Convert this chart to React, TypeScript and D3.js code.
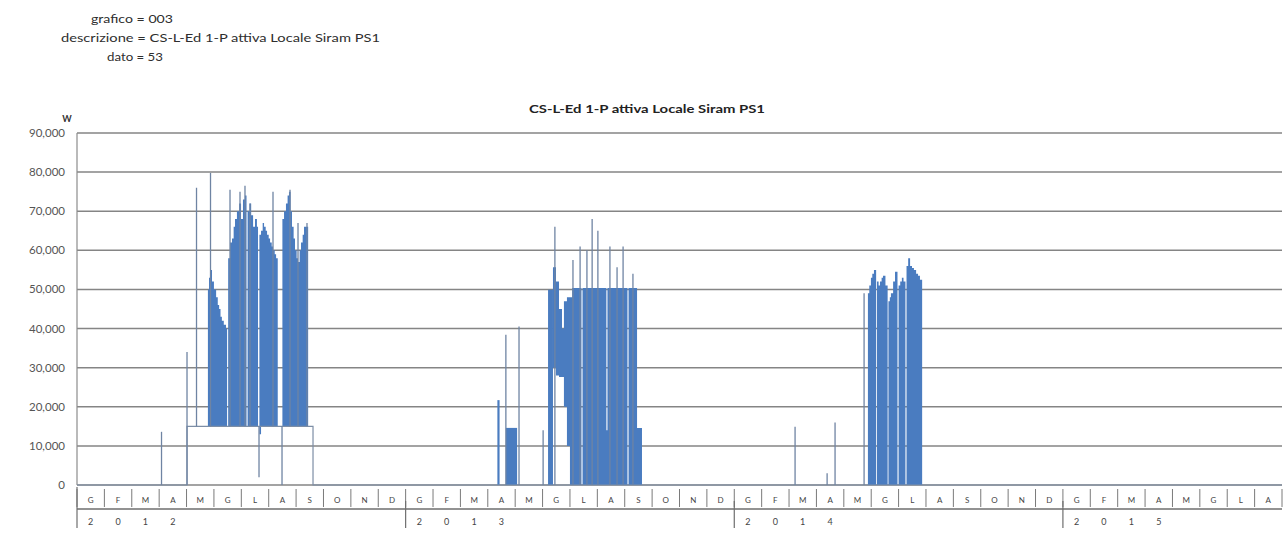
import React, { useEffect, useRef } from "react";
import * as d3 from "d3";

// header text above the chart
const headerLines = [
  "grafico = 003",
  "descrizione = CS-L-Ed 1-P attiva Locale Siram PS1",
  "dato = 53",
];
const chartTitle = "CS-L-Ed 1-P attiva Locale Siram PS1";
const unitLabel = "W";

// axis labels
const monthLabels = ["G", "F", "M", "A", "M", "G", "L", "A", "S", "O", "N", "D"];
const yearLabels = ["2012", "2013", "2014", "2015"];
const monthsPerYear = [12, 12, 12, 8];
const yTicks = [0, 10000, 20000, 30000, 40000, 50000, 60000, 70000, 80000, 90000];

// time is in months from january 2012, values in W
// slow part of the line: [month, W]
const baseLine: [number, number][] = [
  [0, 0], [4.017, 0], [4.017, 15000], [8.618, 15000], [8.618, 0], [44, 0],
];

// dense daily swings drawn as filled bands: [month, low W, high W]
const block2012: [number, number, number][] = [
  [4.78, 15000, 50000], [4.82, 15000, 53000], [4.87, 15000, 55000], [4.93, 15000, 52000],
  [5.0, 15000, 50000], [5.08, 15000, 48000], [5.14, 15000, 46000], [5.19, 15000, 45000],
  [5.24, 15000, 43000], [5.29, 15000, 42000], [5.36, 15000, 41000], [5.44, 15000, 40000],
  [5.48, 15000, 15000], [5.52, 15000, 58000], [5.59, 15000, 62000], [5.66, 15000, 63000],
  [5.72, 15000, 66000], [5.77, 15000, 68000], [5.84, 15000, 70000], [5.92, 15000, 72000],
  [5.99, 15000, 68000], [6.06, 15000, 73000], [6.13, 15000, 74000], [6.19, 15000, 15000],
  [6.23, 15000, 70000], [6.3, 15000, 72000], [6.36, 15000, 69000], [6.43, 15000, 66000],
  [6.50, 15000, 68000], [6.57, 15000, 66000], [6.61, 15000, 15000],
  [6.66, 13000, 64000], [6.72, 15000, 65000], [6.78, 15000, 67000], [6.83, 15000, 66000],
  [6.89, 15000, 65000], [6.94, 15000, 64000], [7.0, 15000, 63000], [7.05, 15000, 62000],
  [7.11, 15000, 61000], [7.16, 15000, 60000], [7.22, 15000, 59000], [7.27, 15000, 58000],
  [7.33, 15000, 15000],
  [7.5, 15000, 68000], [7.56, 15000, 70000], [7.63, 15000, 72000], [7.69, 15000, 74000],
  [7.74, 15000, 75000], [7.8, 15000, 70000], [7.85, 15000, 66000], [7.91, 15000, 63000],
  [7.96, 15000, 60000], [8.02, 15000, 58000], [8.07, 15000, 57000], [8.13, 15000, 60000],
  [8.18, 15000, 62000], [8.24, 15000, 64000], [8.29, 15000, 66000],
  [8.40, 15000, 66000], [8.44, 15000, 15000],
];

const block2013a: [number, number, number][] = [[15.35, 0, 21700], [15.43, 0, 0]];
const block2013b: [number, number, number][] = [[15.66, 0, 14600], [16.07, 0, 0]];
const block2013c: [number, number, number][] = [[17.2, 0, 49900], [17.38, 0, 0]];
const block2013d: [number, number, number][] = [
  [17.38, 30000, 55700], [17.49, 28000, 52000], [17.6, 27600, 45000], [17.71, 27600, 40000],
  [17.78, 20000, 47000], [17.89, 10000, 48000], [18.0, 0, 48000], [18.08, 0, 50400],
  [18.42, 0, 0], [18.46, 0, 50400], [19.33, 0, 14000], [19.37, 0, 50400],
  [20.1, 0, 0], [20.14, 0, 50400], [20.45, 0, 14600], [20.63, 0, 0],
];

const block2014: [number, number, number][] = [
  [28.88, 0, 49000], [28.93, 0, 51000], [28.99, 0, 53000], [29.04, 0, 54000], [29.1, 0, 55000],
  [29.18, 0, 0], [29.21, 0, 52000], [29.27, 0, 51000], [29.32, 0, 52000], [29.38, 0, 53000],
  [29.43, 0, 53500], [29.52, 0, 51000], [29.6, 0, 0],
  [29.63, 0, 47000], [29.68, 0, 48000], [29.72, 0, 49000], [29.8, 0, 52000], [29.87, 0, 54500],
  [29.96, 0, 0], [30.0, 0, 51000], [30.06, 0, 52000], [30.12, 0, 53000], [30.18, 0, 52000],
  [30.25, 0, 0], [30.29, 0, 56000], [30.35, 0, 58000], [30.42, 0, 56000], [30.49, 0, 55500],
  [30.56, 0, 55000], [30.64, 0, 54000], [30.71, 0, 53500], [30.78, 0, 52500], [30.86, 0, 0],
];

// single readings that stick out: [month, from W, to W]
const spikes: [number, number, number][] = [
  [3.086, 0, 13600], [4.017, 0, 34000], [4.364, 15000, 76000], [4.875, 15000, 79800],
  [5.587, 15000, 75500], [5.952, 15000, 75000], [6.134, 15000, 76500], [6.317, 15000, 72000],
  [6.646, 2000, 15000], [7.157, 15000, 75000], [7.486, 0, 15000], [7.778, 15000, 75500],
  [8.07, 15000, 67000], [8.398, 15000, 67000],
  [15.66, 0, 38400], [16.14, 0, 40500], [17.02, 0, 14000], [17.45, 0, 66000],
  [18.11, 0, 57500], [18.37, 0, 61000], [18.62, 0, 60000], [18.81, 0, 68000],
  [19.02, 0, 65000], [19.46, 0, 61000], [19.72, 0, 55700], [19.94, 0, 61000], [20.3, 0, 54000],
  [26.22, 0, 14900], [27.39, 0, 3000], [27.68, 0, 16000], [28.74, 0, 49000],
];

export default function App() {
  const svgRef = useRef<SVGSVGElement>(null);

  useEffect(() => {
    const width = 1285;
    const height = 542;
    const margin = { top: 133, right: 3, bottom: 57, left: 77 };
    const font = "Lato, 'Open Sans', sans-serif";
    const blue = "#4a7cc0";

    const svg = d3.select(svgRef.current);
    svg.selectAll("*").remove();
    svg.attr("width", width).attr("height", height);

    const totalMonths = d3.sum(monthsPerYear);

    //scales
    const x = d3.scaleLinear()
      .domain([0, totalMonths])
      .range([margin.left, width - margin.right]);
    const y = d3.scaleLinear()
      .domain([0, 90000])
      .range([height - margin.bottom, margin.top]);

    //header lines
    const header = svg.append("g").attr("font-family", font).attr("font-size", 12).attr("fill", "#2e2e2e");
    const headerX = [91, 61, 107];
    const headerW = [82, 319, 56];
    const headerY = [23, 42, 61];
    headerLines.forEach((t, i) => {
      header.append("text")
        .attr("x", headerX[i]).attr("y", headerY[i])
        .attr("textLength", headerW[i]).attr("lengthAdjust", "spacingAndGlyphs")
        .text(t);
    });

    //title and unit
    svg.append("text")
      .attr("x", 647).attr("y", 113)
      .attr("text-anchor", "middle")
      .attr("font-family", font).attr("font-size", 11).attr("font-weight", "bold")
      .attr("textLength", 236).attr("lengthAdjust", "spacingAndGlyphs")
      .attr("fill", "#222")
      .text(chartTitle);
    svg.append("text")
      .attr("x", 67).attr("y", 122)
      .attr("text-anchor", "middle")
      .attr("font-family", font).attr("font-size", 9).attr("font-weight", "bold")
      .attr("fill", "#333")
      .text(unitLabel);

    //horizontal gridlines
    svg.append("g")
      .selectAll("line")
      .data(yTicks)
      .join("line")
      .attr("x1", x(0)).attr("x2", x(totalMonths))
      .attr("y1", (d) => y(d)).attr("y2", (d) => y(d))
      .attr("stroke", "#858585").attr("stroke-width", 1.5);

    //y axis line and labels
    svg.append("line")
      .attr("x1", x(0)).attr("x2", x(0))
      .attr("y1", y(90000)).attr("y2", y(0))
      .attr("stroke", "#8c8c8c").attr("stroke-width", 1.2);
    svg.append("g")
      .selectAll("text")
      .data(yTicks)
      .join("text")
      .attr("x", 65).attr("y", (d) => y(d))
      .attr("dy", "0.35em")
      .attr("text-anchor", "end")
      .attr("font-family", font).attr("font-size", 11.5)
      .attr("fill", "#555")
      .text((d) => d3.format(",")(d));

    //filled bands, each reading held until the next one
    const area = d3.area<[number, number, number]>()
      .x((d) => x(d[0]))
      .y0((d) => y(d[1]))
      .y1((d) => y(d[2]))
      .curve(d3.curveStepAfter);
    [block2012, block2013a, block2013b, block2013c, block2013d, block2014].forEach((b) => {
      svg.append("path").attr("d", area(b)).attr("fill", blue);
    });

    //slow line
    const line = d3.line<[number, number]>().x((d) => x(d[0])).y((d) => y(d[1]));
    svg.append("path")
      .attr("d", line(baseLine))
      .attr("fill", "none")
      .attr("stroke", "#7d8ea6").attr("stroke-width", 1.2);

    //spikes
    svg.append("g")
      .selectAll("line")
      .data(spikes)
      .join("line")
      .attr("x1", (d) => x(d[0])).attr("x2", (d) => x(d[0]))
      .attr("y1", (d) => y(d[1])).attr("y2", (d) => y(d[2]))
      .attr("stroke", "#6f84a3").attr("stroke-width", 1.3);

    //x axis: month row
    const axisG = svg.append("g");
    const months = d3.range(totalMonths);
    axisG.selectAll("line.sep")
      .data(d3.range(totalMonths + 1))
      .join("line")
      .attr("class", "sep")
      .attr("x1", (d) => x(d)).attr("x2", (d) => x(d))
      .attr("y1", y(0) + 4).attr("y2", y(0) + 22)
      .attr("stroke", "#7a7a7a").attr("stroke-width", 1);
    axisG.selectAll("text.month")
      .data(months)
      .join("text")
      .attr("class", "month")
      .attr("x", (d) => x(d + 0.5)).attr("y", y(0) + 18)
      .attr("text-anchor", "middle")
      .attr("font-family", font).attr("font-size", 8)
      .attr("fill", "#444")
      .text((d) => monthLabels[d % 12]);
    axisG.append("line")
      .attr("x1", x(0)).attr("x2", x(totalMonths))
      .attr("y1", y(0) + 24).attr("y2", y(0) + 24)
      .attr("stroke", "#6e6e6e").attr("stroke-width", 1.6);

    //x axis: year row
    const yearStart = monthsPerYear.map((_, i) => d3.sum(monthsPerYear.slice(0, i)));
    axisG.selectAll("line.year")
      .data(yearStart)
      .join("line")
      .attr("class", "year")
      .attr("x1", (d) => x(d)).attr("x2", (d) => x(d))
      .attr("y1", (d) => (d === 0 ? y(0) + 2 : y(0) + 16)).attr("y2", y(0) + 43)
      .attr("stroke", "#6e6e6e").attr("stroke-width", 1.2);
    yearLabels.forEach((yr, i) => {
      yr.split("").forEach((ch, j) => {
        axisG.append("text")
          .attr("x", x(yearStart[i] + j + 0.5)).attr("y", y(0) + 40)
          .attr("text-anchor", "middle")
          .attr("font-family", font).attr("font-size", 9)
          .attr("fill", "#444")
          .text(ch);
      });
    });
  }, []);

  return (
    <div style={{ position: "absolute", left: 0, top: 0 }}>
      <svg ref={svgRef} style={{ display: "block", background: "#fff" }}></svg>
    </div>
  );
}
